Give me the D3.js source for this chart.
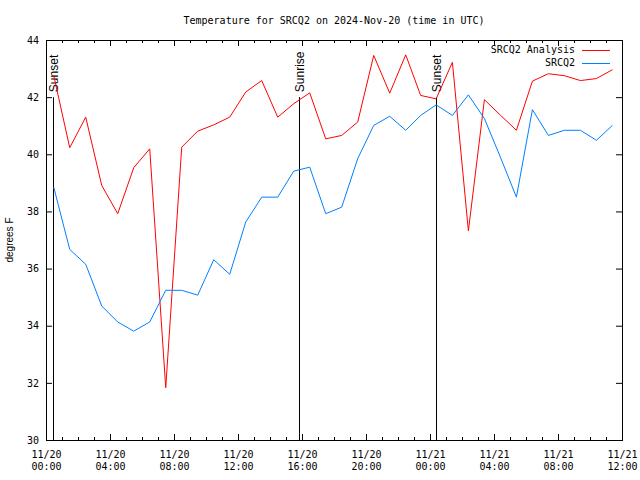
<!DOCTYPE html>
<html><head><meta charset="utf-8">
<script src="https://cdn.jsdelivr.net/npm/d3@7"></script>
<style>body{margin:0;background:#fff}svg{display:block}</style>
</head><body><svg id="c" width="640" height="480"></svg>
<script>
const times = [
  "2024-11-20T00:29Z","2024-11-20T01:29Z","2024-11-20T02:29Z","2024-11-20T03:29Z",
  "2024-11-20T04:29Z","2024-11-20T05:29Z","2024-11-20T06:29Z","2024-11-20T07:29Z",
  "2024-11-20T08:29Z","2024-11-20T09:29Z","2024-11-20T10:29Z","2024-11-20T11:29Z",
  "2024-11-20T12:29Z","2024-11-20T13:29Z","2024-11-20T14:29Z","2024-11-20T15:29Z",
  "2024-11-20T16:29Z","2024-11-20T17:29Z","2024-11-20T18:29Z","2024-11-20T19:29Z",
  "2024-11-20T20:29Z","2024-11-20T21:29Z","2024-11-20T22:29Z","2024-11-20T23:25Z",
  "2024-11-21T00:23Z","2024-11-21T01:24Z","2024-11-21T02:24Z","2024-11-21T03:24Z",
  "2024-11-21T04:24Z","2024-11-21T05:24Z","2024-11-21T06:24Z","2024-11-21T07:24Z",
  "2024-11-21T08:24Z","2024-11-21T09:24Z","2024-11-21T10:24Z","2024-11-21T11:24Z"
];
const analysisValues = [42.76, 40.23, 41.30, 38.91, 37.92, 39.53, 40.19, 31.83, 40.25, 40.81,
  41.03, 41.30, 42.18, 42.58, 41.30, 41.77, 42.15, 40.54, 40.66, 41.13, 43.46, 42.14, 43.48,
  42.06, 41.94, 43.22, 37.32, 41.91, 41.37, 40.84, 42.56, 42.82, 42.75, 42.58, 42.65, 42.96];
const observedValues = [38.85, 36.67, 36.15, 34.69, 34.13, 33.81, 34.13, 35.24, 35.24, 35.07,
  36.31, 35.80, 37.63, 38.50, 38.50, 39.41, 39.55, 37.92, 38.15, 39.85, 41.01, 41.33, 40.84,
  41.36, 41.73, 41.36, 42.08, 41.25, 39.90, 38.50, 41.56, 40.66, 40.84, 40.84, 40.49, 41.01];
const seriesNames = ["SRCQ2 Analysis", "SRCQ2"];
const seriesColors = ["#ff0000", "#0080ff"];
const eventLabels = ["Sunset", "Sunrise", "Sunset"];
const eventTimes = ["2024-11-20T00:26Z", "2024-11-20T15:48Z", "2024-11-21T00:23Z"];
const yTicks = [30, 32, 34, 36, 38, 40, 42, 44];
const xDomain = ["2024-11-20T00:00Z", "2024-11-21T12:00Z"];
const titleText = "Temperature for SRCQ2 on 2024-Nov-20 (time in UTC)";
const yLabel = "degrees F";

const L = 46, R = 622, T = 40, B = 440;
const mono = "'DejaVu Sans Mono', monospace";
const sans = "'Liberation Sans', Arial, sans-serif";
const svg = d3.select("#c");
const x = d3.scaleUtc().domain(xDomain.map(s => new Date(s))).range([L, R]);
const y = d3.scaleLinear().domain([30, 44]).range([B, T]);

// title
svg.append("text").attr("x", (L + R) / 2).attr("y", 24).attr("text-anchor", "middle")
  .style("font-family", mono).style("font-size", "10px").text(titleText);

// axes
function clean(g) { g.select(".domain").remove(); g.selectAll("line").attr("stroke", "#000"); }
const fmtDate = d3.utcFormat("%m/%d"), fmtTime = d3.utcFormat("%H:%M");
const minor = d3.utcHour.every(1), major = d3.utcHour.every(4);

svg.append("g").attr("transform", `translate(0,${B})`)
  .call(d3.axisBottom(x).ticks(minor).tickSize(-3).tickFormat("")).call(clean);
svg.append("g").attr("transform", `translate(0,${T})`)
  .call(d3.axisTop(x).ticks(minor).tickSize(-3).tickFormat("")).call(clean);
svg.append("g").attr("transform", `translate(0,${T})`)
  .call(d3.axisTop(x).ticks(major).tickSize(-6).tickFormat("")).call(clean);
const xb = svg.append("g").attr("transform", `translate(0,${B})`)
  .call(d3.axisBottom(x).ticks(major).tickSize(-6).tickPadding(0).tickFormat(d => fmtDate(d)))
  .call(clean);
xb.selectAll("text").each(function(d) {
  const t = d3.select(this).text("").attr("y", 0).attr("dy", null)
    .style("font-family", mono).style("font-size", "10px").attr("fill", "#000");
  t.append("tspan").attr("x", 0).attr("y", 18).text(fmtDate(d));
  t.append("tspan").attr("x", 0).attr("y", 30).text(fmtTime(d));
});

svg.append("g").attr("transform", `translate(${L},0)`)
  .call(d3.axisLeft(y).tickValues(yTicks).tickSize(-6).tickPadding(7).tickFormat(d3.format("d")))
  .call(clean)
  .selectAll("text").style("font-family", mono).style("font-size", "10px").attr("fill", "#000");
svg.append("g").attr("transform", `translate(${R},0)`)
  .call(d3.axisRight(y).tickValues(yTicks).tickSize(-6).tickFormat("")).call(clean);

// y label
svg.append("text").attr("transform", `translate(13,${(T + B) / 2}) rotate(-90)`)
  .attr("text-anchor", "middle").style("font-family", sans).style("font-size", "10px").text(yLabel);

// events
eventLabels.forEach((lab, i) => {
  const ex = Math.round(x(new Date(eventTimes[i]))) + 0.5;
  svg.append("line").attr("x1", ex).attr("x2", ex).attr("y1", y(30)).attr("y2", y(42))
    .attr("stroke", "#000").attr("stroke-width", 1);
  svg.append("text").attr("transform", `translate(${ex + 1},${y(42) - 5}) rotate(-90)`)
    .attr("dominant-baseline", "middle").style("font-family", sans).style("font-size", "12px")
    .text(lab);
});

// series
const seriesValues = [analysisValues, observedValues];
const line = d3.line().x(d => x(d[0])).y(d => y(d[1]));
seriesValues.forEach((vals, i) => {
  const pts = vals.map((v, k) => [new Date(times[k]), v]);
  svg.append("path").datum(pts).attr("d", line).attr("fill", "none")
    .attr("stroke", seriesColors[i]).attr("stroke-width", 1);
});

// legend
seriesNames.forEach((n, i) => {
  const ly = 50 + i * 12.5;
  svg.append("text").attr("x", 575).attr("y", ly).attr("text-anchor", "end")
    .attr("dominant-baseline", "middle").style("font-family", mono).style("font-size", "10px").text(n);
  svg.append("line").attr("x1", 582).attr("x2", 610).attr("y1", Math.round(ly) + 0.5).attr("y2", Math.round(ly) + 0.5)
    .attr("stroke", seriesColors[i]).attr("stroke-width", 1);
});

// frame
svg.append("rect").attr("x", L + 0.5).attr("y", T + 0.5).attr("width", R - L).attr("height", B - T)
  .attr("fill", "none").attr("stroke", "#000").attr("stroke-width", 1);
</script></body></html>
